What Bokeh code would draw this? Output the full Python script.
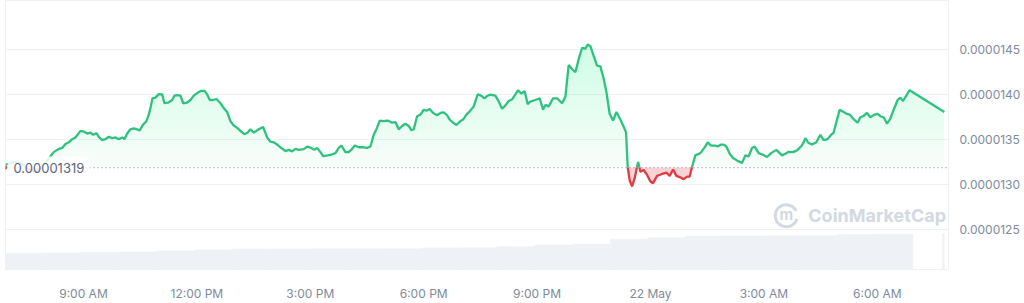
import numpy as np
from bokeh.plotting import figure
from bokeh.models import Range1d, FixedTicker, Span, Label, PrintfTickFormatter
from bokeh.embed import file_html
from bokeh.resources import INLINE

# ---------------- data ----------------
# time in hours since 21 May 00:00
hours = [
    6.937, 7.148, 7.334, 7.545, 7.730, 7.916, 8.127, 8.214, 8.347, 8.437,
    8.524, 8.611, 8.701, 8.788, 8.921, 9.008, 9.098, 9.185, 9.257, 9.344,
    9.405, 9.495, 9.582, 9.669, 9.759, 9.846, 9.934, 10.024, 10.084, 10.156,
    10.243, 10.330, 10.420, 10.489, 10.579, 10.666, 10.727, 10.772, 10.825, 10.904,
    10.992, 11.082, 11.142, 11.256, 11.346, 11.407, 11.478, 11.566, 11.637, 11.743,
    11.830, 11.917, 12.023, 12.113, 12.200, 12.272, 12.341, 12.431, 12.518, 12.624,
    12.711, 12.801, 12.888, 12.975, 13.081, 13.171, 13.258, 13.346, 13.417, 13.504,
    13.637, 13.753, 13.859, 13.946, 14.033, 14.123, 14.211, 14.343, 14.430, 14.520,
    14.607, 14.695, 14.827, 14.917, 15.023, 15.110, 15.181, 15.269, 15.340, 15.462,
    15.552, 15.665, 15.753, 15.824, 15.930, 16.017, 16.107, 16.176, 16.282, 16.414,
    16.504, 16.591, 16.678, 16.768, 16.837, 16.927, 17.049, 17.165, 17.252, 17.340,
    17.430, 17.517, 17.604, 17.676, 17.737, 17.826, 17.914, 18.001, 18.072, 18.160,
    18.250, 18.355, 18.443, 18.530, 18.620, 18.689, 18.779, 18.866, 18.972, 19.043,
    19.130, 19.218, 19.323, 19.429, 19.519, 19.606, 19.694, 19.765, 19.897, 19.985,
    20.075, 20.162, 20.249, 20.339, 20.426, 20.498, 20.577, 20.672, 20.752, 20.823,
    20.955, 21.069, 21.159, 21.220, 21.307, 21.424, 21.529, 21.662, 21.749, 21.836,
    21.926, 22.013, 22.101, 22.191, 22.278, 22.339, 22.410, 22.497, 22.587, 22.675,
    22.762, 22.833, 22.921, 23.011, 23.098, 23.204, 23.309, 23.354, 23.397, 23.450,
    23.513, 23.582, 23.672, 23.733, 23.820, 23.910, 23.997, 24.069, 24.174, 24.307,
    24.420, 24.508, 24.598, 24.685, 24.791, 24.878, 24.968, 25.037, 25.100, 25.187,
    25.320, 25.425, 25.513, 25.603, 25.716, 25.777, 25.867, 25.936, 26.007, 26.095,
    26.185, 26.306, 26.423, 26.510, 26.597, 26.687, 26.756, 26.862, 26.978, 27.084,
    27.190, 27.330, 27.481, 27.568, 27.655, 27.772, 27.877, 27.983, 28.052, 28.097,
    28.184, 28.274, 28.388, 28.494, 28.581, 28.687, 28.777, 28.845, 29.004, 29.110,
    29.200, 29.269, 29.359, 29.480, 29.552, 29.623, 29.729, 29.816, 29.922, 30.009,
    30.081, 30.168, 30.258, 30.345, 30.433, 30.538, 30.610, 30.681, 30.856, 31.774,
]

# price in units of 1e-6 USD
price_e6 = [
    13.220, 13.253, 13.242, 13.177, 13.144, 13.198, 13.315, 13.361, 13.397, 13.408,
    13.451, 13.470, 13.505, 13.524, 13.597, 13.589, 13.567, 13.578, 13.553, 13.571,
    13.531, 13.495, 13.505, 13.531, 13.516, 13.524, 13.505, 13.524, 13.505, 13.567,
    13.614, 13.625, 13.614, 13.603, 13.668, 13.705, 13.777, 13.849, 13.958, 13.965,
    14.004, 14.001, 13.903, 13.914, 13.939, 13.987, 13.993, 13.987, 13.903, 13.911,
    13.939, 13.987, 14.020, 14.041, 14.041, 14.001, 13.939, 13.939, 13.950, 13.903,
    13.849, 13.806, 13.705, 13.657, 13.625, 13.589, 13.560, 13.578, 13.614, 13.578,
    13.614, 13.640, 13.524, 13.477, 13.470, 13.445, 13.415, 13.372, 13.386, 13.369,
    13.397, 13.386, 13.394, 13.423, 13.408, 13.386, 13.408, 13.361, 13.318, 13.325,
    13.332, 13.350, 13.408, 13.434, 13.361, 13.361, 13.397, 13.434, 13.415, 13.415,
    13.408, 13.423, 13.553, 13.632, 13.711, 13.705, 13.711, 13.687, 13.694, 13.614,
    13.651, 13.676, 13.651, 13.603, 13.614, 13.759, 13.777, 13.831, 13.820, 13.838,
    13.795, 13.770, 13.795, 13.803, 13.770, 13.722, 13.687, 13.662, 13.705, 13.722,
    13.777, 13.813, 13.868, 14.001, 13.987, 13.958, 13.987, 13.998, 13.987, 13.922,
    13.842, 13.879, 13.928, 13.947, 14.001, 14.048, 14.012, 14.037, 13.893, 13.922,
    13.939, 13.958, 13.831, 13.885, 13.868, 13.958, 13.958, 13.903, 13.976, 14.326,
    14.283, 14.247, 14.392, 14.518, 14.508, 14.554, 14.536, 14.427, 14.319, 14.312,
    14.175, 14.030, 13.784, 13.711, 13.806, 13.722, 13.625, 13.578, 13.198, 13.047,
    12.982, 13.072, 13.253, 13.144, 13.163, 13.108, 13.036, 13.017, 13.098, 13.119,
    13.133, 13.098, 13.169, 13.098, 13.082, 13.061, 13.090, 13.090, 13.198, 13.325,
    13.350, 13.408, 13.470, 13.434, 13.434, 13.423, 13.445, 13.445, 13.423, 13.343,
    13.296, 13.264, 13.242, 13.325, 13.315, 13.408, 13.423, 13.350, 13.332, 13.307,
    13.350, 13.386, 13.325, 13.343, 13.364, 13.361, 13.380, 13.423, 13.470, 13.516,
    13.462, 13.445, 13.470, 13.553, 13.495, 13.505, 13.553, 13.578, 13.831, 13.806,
    13.784, 13.777, 13.733, 13.687, 13.748, 13.759, 13.795, 13.748, 13.777, 13.784,
    13.759, 13.748, 13.676, 13.733, 13.831, 13.939, 13.965, 13.928, 14.048, 13.806,
]

open_price = 0.00001319
open_label = "0.00001319"

x_ticks = [9, 12, 15, 18, 21, 24, 27, 30]
x_labels = ["9:00 AM", "12:00 PM", "3:00 PM", "6:00 PM", "9:00 PM", "22 May", "3:00 AM", "6:00 AM"]
y_ticks = [0.0000125, 0.0000130, 0.0000135, 0.0000140, 0.0000145]

# volume (relative units), hourly buckets
vol_hours = [7.44, 8.44, 9.44, 10.44, 11.44, 12.44, 13.44, 14.44, 15.44, 16.44,
             17.44, 18.44, 19.44, 20.44, 21.44, 22.44, 23.44, 24.44, 25.44, 26.44,
             27.44, 28.44, 29.44, 30.44, 31.75]
volume = [16.7, 16.9, 17.7, 17.9, 19.0, 20.0, 21.0, 21.0, 21.1, 21.1,
          21.3, 22.0, 22.2, 23.6, 25.0, 26.0, 31.0, 32.5, 34.2, 34.3,
          34.4, 34.6, 35.8, 36.1, 36.7]

# ---------------- style ----------------
GREEN = "#2fc27f"
RED = "#e23b43"
GRID = "#eff2f5"
LABEL = "#808a9d"
VOL = "#eef1f5"
FONT = "Inter"

t = np.array(hours, dtype=float)
pr = np.array(price_e6, dtype=float) * 1e-6

# insert baseline crossings so the colour switches exactly at the open price
xs = [t[0]]
ys = [pr[0]]
for i in range(len(t) - 1):
    a = pr[i] - open_price
    b = pr[i + 1] - open_price
    if a * b < 0:
        f = a / (a - b)
        xs.append(t[i] + f * (t[i + 1] - t[i]))
        ys.append(open_price)
    xs.append(t[i + 1])
    ys.append(pr[i + 1])
xs = np.array(xs)
ys = np.array(ys)
up = np.where(ys >= open_price, ys, np.nan)
dn = np.where(ys <= open_price, ys, np.nan)

p = figure(width=1024, height=303, output_backend="svg", toolbar_location=None,
           x_range=Range1d(6.937, 31.884), y_range=Range1d(1.2060e-5, 1.5042e-5),
           y_axis_location="right", min_border_left=5, min_border_right=76,
           min_border_top=0, min_border_bottom=28)
p.background_fill_color = "white"
p.border_fill_color = "white"
p.outline_line_color = GRID

p.extra_y_ranges = {"vol": Range1d(0, 275)}
p.vbar(x=vol_hours[:-1], top=volume[:-1], bottom=0, width=1.0, y_range_name="vol",
       fill_color=VOL, line_color=VOL, line_width=0.5)
p.vbar(x=vol_hours[-1:], top=volume[-1:], bottom=0, width=0.06, y_range_name="vol",
       fill_color=VOL, line_color=None)

# gradient-like green fill above the open price
top = pr.max()
levels = np.linspace(open_price, top, 22)
p.varea(x=xs, y1=np.maximum(ys, open_price), y2=open_price, fill_color=GREEN, fill_alpha=0.035)
for lv in levels[1:-1]:
    p.varea(x=xs, y1=np.maximum(ys, lv), y2=lv, fill_color=GREEN, fill_alpha=0.0095)
# red fill below the open price
p.varea(x=xs, y1=np.minimum(ys, open_price), y2=open_price, fill_color=RED, fill_alpha=0.22)

p.add_layout(Span(location=open_price, dimension="width", line_color="#8e97a8",
                  line_dash="1 3", line_width=1.3))

p.line(xs, up, line_color=GREEN, line_width=2.3)
p.line(xs, dn, line_color=RED, line_width=2.3)
p.scatter(x=[hours[0]], y=[open_price], size=3, color=RED)

# watermark
p.arc(x=[27.593], y=[1.2656e-5], radius=11, radius_units="screen",
      start_angle=0.45, end_angle=2 * np.pi - 0.3, line_color="#d3d9e3", line_width=3)
p.add_layout(Label(x=27.593, y=1.2656e-5, text="m", text_align="center", text_baseline="middle",
                   text_font=FONT, text_font_size="15px", text_font_style="bold",
                   text_color="#d3d9e3", y_offset=1))
p.add_layout(Label(x=28.175, y=1.2656e-5, text="CoinMarketCap", text_align="left",
                   text_baseline="middle", text_font=FONT, text_font_size="18px",
                   text_font_style="bold", text_color="#d3d9e3"))

# open price label
p.add_layout(Label(x=6.937, y=open_price, text=open_label, x_offset=2, text_align="left",
                   text_baseline="middle", text_font=FONT, text_font_size="13px",
                   text_color="#58667e", background_fill_color="white",
                   background_fill_alpha=0.85, padding=6, border_radius=6))

# axes
p.xaxis.ticker = FixedTicker(ticks=x_ticks)
p.xaxis.major_label_overrides = {k: v for k, v in zip(x_ticks, x_labels)}
p.yaxis.ticker = FixedTicker(ticks=y_ticks)
p.yaxis.formatter = PrintfTickFormatter(format="%.7f")
for ax in (p.xaxis, p.yaxis):
    ax.axis_line_color = None
    ax.major_tick_line_color = None
    ax.minor_tick_line_color = None
    ax.major_label_text_font = FONT
    ax.major_label_text_font_size = "12px"
    ax.major_label_text_color = LABEL
p.xaxis.major_label_standoff = 10
p.yaxis.major_label_standoff = 5
p.xgrid.grid_line_color = None
p.ygrid.ticker = FixedTicker(ticks=y_ticks)
p.ygrid.grid_line_color = GRID
p.ygrid.grid_line_width = 1

open("out.html", "w").write(file_html(p, INLINE))
